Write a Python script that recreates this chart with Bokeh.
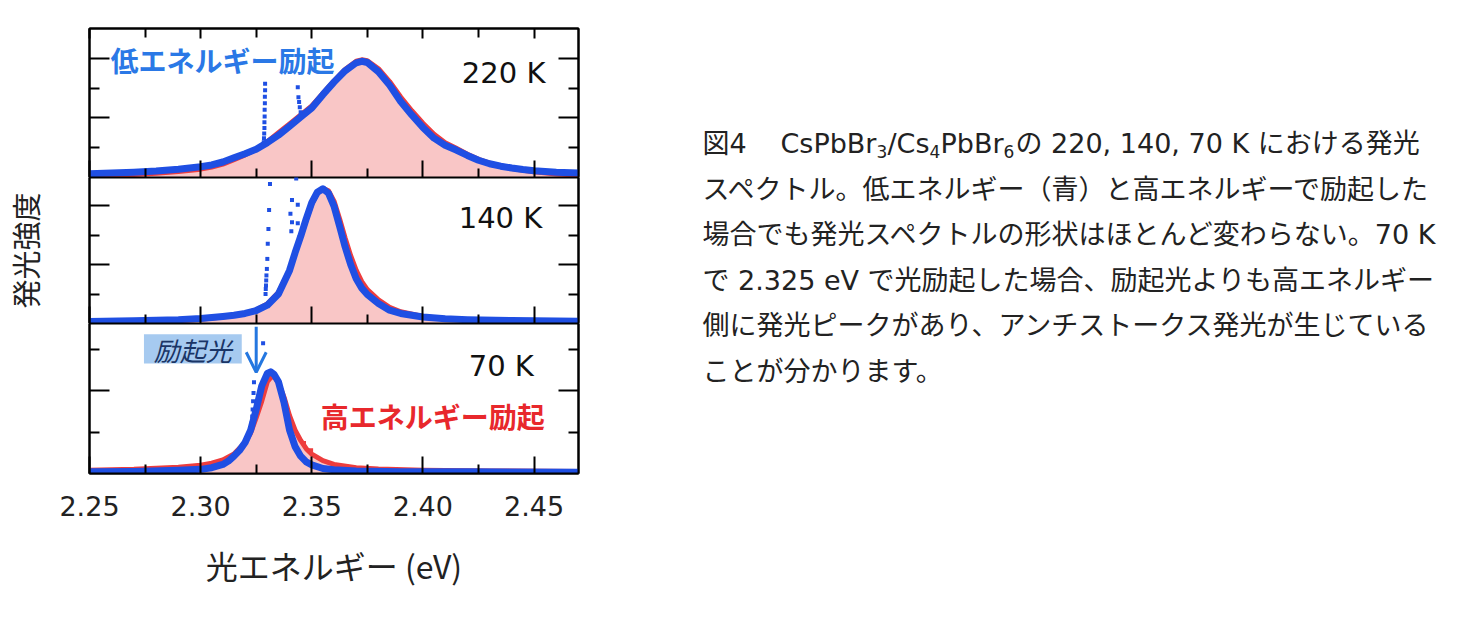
from bokeh.plotting import figure
from bokeh.layouts import column, row
from bokeh.models import (Range1d, FixedTicker, LinearAxis, Label, Arrow, OpenHead,
                          BoxAnnotation, PrintfTickFormatter)
from bokeh.embed import file_html
from bokeh.resources import INLINE

# ---------------- data (photon energy in eV, intensity in tick units) ----------------
X_START, X_END = 2.25, 2.47
X_MAJOR = [2.25, 2.30, 2.35, 2.40, 2.45]
X_MINOR = [2.275, 2.325, 2.375, 2.425]

# 220 K
x220_blue = [2.250, 2.260, 2.270, 2.280, 2.290, 2.300, 2.305, 2.310, 2.315, 2.320, 2.325, 2.330,
             2.335, 2.340, 2.345, 2.350, 2.355, 2.360, 2.365, 2.370, 2.3725, 2.375, 2.380, 2.385,
             2.390, 2.395, 2.400, 2.405, 2.410, 2.415, 2.420, 2.425, 2.430, 2.435, 2.440, 2.445,
             2.450, 2.460, 2.470]
y220_blue = [0.13, 0.15, 0.18, 0.22, 0.28, 0.36, 0.42, 0.52, 0.66, 0.80, 0.95, 1.17,
             1.42, 1.72, 2.03, 2.33, 2.78, 3.20, 3.58, 3.85, 3.90, 3.86, 3.55, 3.10,
             2.55, 2.10, 1.68, 1.32, 1.08, 0.92, 0.74, 0.58, 0.46, 0.38, 0.32, 0.27,
             0.23, 0.18, 0.15]
x220_red = x220_blue
y220_red = [0.05, 0.07, 0.10, 0.14, 0.20, 0.28, 0.35, 0.45, 0.60, 0.76, 0.94, 1.20,
            1.50, 1.80, 2.10, 2.40, 2.82, 3.24, 3.62, 3.90, 3.95, 3.92, 3.65, 3.22,
            2.70, 2.24, 1.82, 1.45, 1.17, 0.98, 0.78, 0.61, 0.48, 0.38, 0.30, 0.24,
            0.19, 0.12, 0.08]
x220_spike = [2.3290, 2.3290, 2.3289, 2.3289, 2.3288, 2.3288, 2.3287, 2.3287, 2.3286, 2.3285, 2.3284,
              2.3437, 2.3440, 2.3443, 2.3446, 2.3450]
y220_spike = [3.15, 2.93, 2.71, 2.49, 2.27, 2.05, 1.85, 1.66, 1.48, 1.32, 1.18,
              3.03, 2.69, 2.53, 2.36, 2.19]

# 140 K
x140_blue = [2.250, 2.270, 2.290, 2.300, 2.310, 2.315, 2.320, 2.325, 2.330, 2.335, 2.340, 2.3425,
             2.345, 2.3475, 2.350, 2.3525, 2.355, 2.3575, 2.360, 2.3625, 2.365, 2.3675, 2.370,
             2.3725, 2.375, 2.380, 2.385, 2.390, 2.400, 2.410, 2.420, 2.440, 2.470]
y140_blue = [0.07, 0.09, 0.13, 0.17, 0.24, 0.28, 0.34, 0.44, 0.62, 1.00, 1.80, 2.40,
             2.95, 3.55, 4.10, 4.45, 4.57, 4.42, 3.98, 3.30, 2.60, 2.00, 1.52,
             1.20, 0.98, 0.68, 0.45, 0.34, 0.22, 0.16, 0.13, 0.10, 0.08]
x140_red = x140_blue
y140_red = [0.03, 0.05, 0.10, 0.14, 0.22, 0.27, 0.34, 0.46, 0.66, 1.05, 1.82, 2.38,
            2.92, 3.50, 4.05, 4.42, 4.58, 4.50, 4.15, 3.55, 2.90, 2.30, 1.80,
            1.42, 1.15, 0.80, 0.55, 0.40, 0.24, 0.16, 0.12, 0.07, 0.04]
x140_spike = [2.3312, 2.3308, 2.3305, 2.3302, 2.3300, 2.3298, 2.3296, 2.3295, 2.3294, 2.3293, 2.3292,
              2.3430, 2.3411, 2.3437, 2.3404, 2.3411, 2.3437, 2.3408]
y140_spike = [4.73, 3.85, 3.20, 2.70, 2.19, 1.85, 1.63, 1.46, 1.29, 1.17, 1.00,
              4.92, 4.19, 4.03, 3.72, 3.43, 3.40, 3.13]

# 70 K
x70_blue = [2.250, 2.270, 2.290, 2.300, 2.305, 2.310, 2.3125, 2.315, 2.3175, 2.320, 2.3225,
            2.325, 2.3275, 2.330, 2.3315, 2.333, 2.335, 2.3375, 2.340, 2.3425, 2.345, 2.3475,
            2.350, 2.355, 2.360, 2.370, 2.390, 2.420, 2.470]
y70_blue = [0.04, 0.05, 0.08, 0.10, 0.14, 0.22, 0.30, 0.42, 0.56, 0.75, 1.05,
            1.55, 2.12, 2.42, 2.46, 2.40, 2.22, 1.72, 1.05, 0.65, 0.42, 0.28,
            0.21, 0.12, 0.09, 0.06, 0.04, 0.04, 0.03]
x70_red = [2.250, 2.270, 2.290, 2.300, 2.305, 2.310, 2.315, 2.320, 2.3225, 2.325, 2.3275,
           2.330, 2.3315, 2.333, 2.335, 2.3375, 2.340, 2.3425, 2.345, 2.3475, 2.350, 2.355,
           2.360, 2.370, 2.380, 2.400, 2.430, 2.470]
y70_red = [0.08, 0.10, 0.15, 0.20, 0.25, 0.33, 0.47, 0.75, 0.98, 1.35, 1.75,
           2.22, 2.32, 2.35, 2.20, 1.85, 1.40, 1.05, 0.80, 0.60, 0.47, 0.31,
           0.22, 0.14, 0.11, 0.08, 0.06, 0.05]
x70_spike_blue = [2.3281, 2.3240, 2.3238, 2.3236, 2.3234, 2.3232, 2.3230]
y70_spike_blue = [3.15, 2.21, 1.95, 1.75, 1.55, 1.38, 1.22]
x70_spike_red = [2.3465, 2.3497]
y70_spike_red = [0.74, 0.56]

EXCITATION_70K = 2.325

# ---------------- styling ----------------
BLUE = "#1f4fe3"
RED = "#ee3d3d"
PINK = "#f9c6c6"
TXT_BLUE = "#2a78e6"
TXT_RED = "#e8282c"
JP = "Noto Sans CJK JP"
LAT = "DejaVu Sans"


def style_axis(ax, tin, minor_in):
    ax.major_tick_in = tin
    ax.major_tick_out = 0
    ax.minor_tick_in = minor_in
    ax.minor_tick_out = 0
    ax.axis_line_color = "black"
    ax.axis_line_width = 2
    ax.major_tick_line_color = "black"
    ax.minor_tick_line_color = "black"
    ax.major_tick_line_width = 2
    ax.minor_tick_line_width = 2


def hide_labels(ax):
    ax.major_label_text_font_size = "0px"
    ax.major_label_text_color = None
    ax.major_label_standoff = 0


def panel(frame_h, ymax, y_major, y_minor, top_border=0, top_axis=False):
    p = figure(frame_width=489, frame_height=frame_h,
               x_range=Range1d(X_START, X_END), y_range=Range1d(0, ymax),
               output_backend="svg", toolbar_location=None,
               x_axis_location=None, y_axis_location=None,
               min_border_left=79, min_border_right=20,
               min_border_top=top_border, min_border_bottom=0,
               background_fill_color="white", border_fill_color="white")
    p.grid.grid_line_color = None
    p.outline_line_color = "black"
    p.outline_line_width = 2
    yt = FixedTicker(ticks=y_major, minor_ticks=y_minor)
    xt = FixedTicker(ticks=X_MAJOR, minor_ticks=X_MINOR)
    left = LinearAxis(ticker=yt)
    right = LinearAxis(ticker=yt)
    for ax in (left, right):
        style_axis(ax, 20, 10)
        hide_labels(ax)
    p.add_layout(left, "left")
    p.add_layout(right, "right")
    below = LinearAxis(ticker=xt)
    style_axis(below, 17, 9)
    p.add_layout(below, "below")
    if top_axis:
        above = LinearAxis(ticker=xt)
        style_axis(above, 10, 9)
        hide_labels(above)
        p.add_layout(above, "above")
    return p, left, below


def draw(p, xb, yb, xr, yr, xs, ys):
    p.varea(x=xr, y1=0, y2=yr, fill_color=PINK, fill_alpha=1.0)
    p.line(x=xr, y=yr, line_color=RED, line_width=5, line_join="round")
    p.line(x=xb, y=yb, line_color=BLUE, line_width=7, line_join="round", line_cap="round")
    p.scatter(x=xs, y=ys, marker="square", size=4, fill_color=BLUE, line_color=None)


# panel 1: 220 K
p1, l1, b1 = panel(149, 5.0, [2, 4], [1, 3], top_border=28, top_axis=True)
hide_labels(b1)
draw(p1, x220_blue, y220_blue, x220_red, y220_red, x220_spike, y220_spike)
p1.add_layout(Label(x=2.4175, y=3.52, text="220 K", text_font=LAT, text_font_size="29px",
                    text_color="#111111", text_baseline="middle", text_align="left"))
p1.add_layout(Label(x=2.2595, y=3.93, text="低エネルギー励起", text_font=JP, text_font_size="28px",
                    text_font_style="bold", text_color=TXT_BLUE, text_baseline="middle",
                    text_align="left"))

# panel 2: 140 K
p2, l2, b2 = panel(146, 4.95, [2, 4], [1, 3])
hide_labels(b2)
draw(p2, x140_blue, y140_blue, x140_red, y140_red, x140_spike, y140_spike)
p2.add_layout(Label(x=2.4161, y=3.56, text="140 K", text_font=LAT, text_font_size="29px",
                    text_color="#111111", text_baseline="middle", text_align="left"))
l2.axis_label = "発光強度"
l2.axis_label_text_font = JP
l2.axis_label_text_font_size = "29px"
l2.axis_label_text_font_style = "normal"
l2.axis_label_text_color = "#222222"
l2.axis_label_standoff = 44

# panel 3: 70 K
p3, l3, b3 = panel(150, 3.63, [2], [1, 3])
draw(p3, x70_blue, y70_blue, x70_red, y70_red, x70_spike_blue, y70_spike_blue)
p3.scatter(x=x70_spike_red, y=y70_spike_red, marker="square", size=4, fill_color=RED, line_color=None)
b3.formatter = PrintfTickFormatter(format="%.2f")
b3.major_label_text_font = LAT
b3.major_label_text_font_size = "27px"
b3.major_label_text_color = "#222222"
b3.major_label_standoff = 22
b3.axis_label = "光エネルギー (eV)"
b3.axis_label_text_font = JP
b3.axis_label_text_font_size = "32px"
b3.axis_label_text_font_style = "normal"
b3.axis_label_text_color = "#222222"
b3.axis_label_standoff = 23

p3.add_layout(Label(x=2.4206, y=2.59, text="70 K", text_font=LAT, text_font_size="29px",
                    text_color="#111111", text_baseline="middle", text_align="left"))
p3.add_layout(Label(x=2.3540, y=1.38, text="高エネルギー励起", text_font=JP, text_font_size="28px",
                    text_font_style="bold", text_color=TXT_RED, text_baseline="middle",
                    text_align="left"))
p3.add_layout(BoxAnnotation(left=2.2745, right=2.3185, bottom=2.66, top=3.37,
                            fill_color="#a6caf0", fill_alpha=1.0, line_color=None))
p3.add_layout(Label(x=2.2965, y=3.01, text="励起光", text_font=JP, text_font_size="26px",
                    text_font_style="italic", text_color="#1a3566", text_baseline="middle",
                    text_align="center"))
p3.add_layout(Arrow(end=OpenHead(line_color="#2477e0", line_width=3, size=20),
                    x_start=EXCITATION_70K, y_start=3.55, x_end=EXCITATION_70K, y_end=2.45,
                    line_color="#2477e0", line_width=3))

left_col = column(p1, p2, p3, spacing=0)

# ---------------- caption ----------------
CAP_W, CAP_H = 856, 600
cap = figure(width=CAP_W, height=CAP_H, x_range=Range1d(0, CAP_W), y_range=Range1d(CAP_H, 0),
             output_backend="svg", toolbar_location=None, x_axis_location=None,
             y_axis_location=None, min_border=0, outline_line_color=None,
             background_fill_color="white", border_fill_color="white")
cap.grid.grid_line_color = None

CAP_FONT = "DejaVu Sans, Noto Sans CJK JP"
CAP_X0 = 104
CAP_Y0 = 143
CAP_DY = 45.6
line1_parts = [("図4", 0, 27, 0), ("CsPbBr", 78, 27, 0), ("3", 174, 17, 8), ("/Cs", 185, 27, 0),
               ("4", 227, 17, 8), ("PbBr", 238, 27, 0), ("6", 301, 17, 8),
               ("の 220, 140, 70 K における発光", 313, 27, 0)]
caption_lines = [
    "スペクトル。低エネルギー（青）と高エネルギーで励起した",
    "場合でも発光スペクトルの形状はほとんど変わらない。70 K",
    "で 2.325 eV で光励起した場合、励起光よりも高エネルギー",
    "側に発光ピークがあり、アンチストークス発光が生じている",
    "ことが分かります。",
]
for txt, dx, fs, dy in line1_parts:
    cap.add_layout(Label(x=CAP_X0 + dx, y=CAP_Y0 + dy, text=txt, text_font=CAP_FONT,
                         text_font_size=f"{fs}px", text_color="#222222",
                         text_baseline="middle", text_align="left"))
for i, txt in enumerate(caption_lines, start=1):
    cap.add_layout(Label(x=CAP_X0, y=CAP_Y0 + i * CAP_DY, text=txt, text_font=CAP_FONT,
                         text_font_size="27px", text_color="#222222",
                         text_baseline="middle", text_align="left"))

layout = row(left_col, cap, spacing=0)
open("out.html", "w").write(file_html(layout, INLINE))
